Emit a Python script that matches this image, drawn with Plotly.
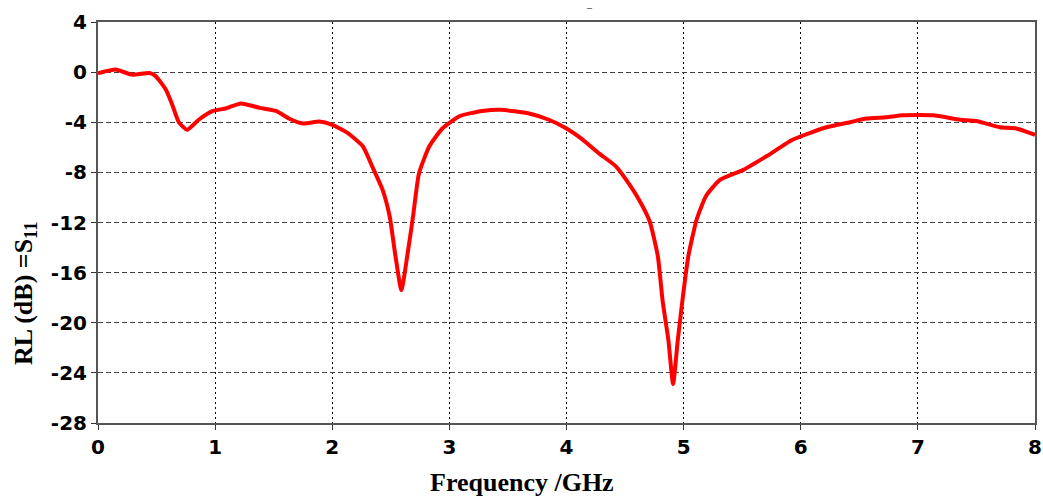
import plotly.graph_objects as go

freq = [0, 0.15, 0.29, 0.44, 0.49, 0.58, 0.63, 0.69, 0.76, 0.86, 0.98, 1.09, 1.22, 1.38,
        1.52, 1.63, 1.75, 1.89, 2.0, 2.13, 2.26, 2.34, 2.43, 2.49, 2.54, 2.59, 2.64, 2.69,
        2.74, 2.83, 2.94, 3.09, 3.28, 3.44, 3.68, 3.85, 4.0, 4.14, 4.28, 4.42, 4.51, 4.62,
        4.71, 4.78, 4.82, 4.87, 4.91, 4.95, 4.99, 5.04, 5.11, 5.19, 5.31, 5.51, 5.71, 5.93,
        6.22, 6.42, 6.56, 6.73, 6.87, 7.13, 7.36, 7.5, 7.7, 7.84, 8.0]
s11 = [-0.1, 0.2, -0.2, -0.07, -0.3, -1.4, -2.5, -4.0, -4.6, -3.8, -3.1, -2.9, -2.5, -2.85,
       -3.1, -3.7, -4.1, -3.95, -4.2, -4.85, -5.9, -7.5, -9.4, -11.5, -14.7, -17.4, -14.7, -11.5,
       -8.1, -5.9, -4.5, -3.5, -3.1, -3.0, -3.3, -3.8, -4.5, -5.4, -6.5, -7.5, -8.6, -10.2,
       -11.9, -14.7, -18.2, -21.4, -24.9, -21.4, -18.2, -14.7, -11.8, -9.9, -8.6, -7.8, -6.7, -5.4,
       -4.4, -4.0, -3.7, -3.6, -3.45, -3.45, -3.8, -3.9, -4.4, -4.5, -5.0]

x_ticks = [0, 1, 2, 3, 4, 5, 6, 7, 8]
y_ticks = [4, 0, -4, -8, -12, -16, -20, -24, -28]

fig = go.Figure()
fig.add_trace(go.Scatter(x=freq, y=s11, mode="lines",
                         line=dict(color="#ff0000", width=4, shape="spline", smoothing=0.5),
                         showlegend=False))

tick_font = dict(family="DejaVu Sans", size=20, color="black", weight="bold")
title_font = dict(family="Liberation Serif", size=26, color="black", weight="bold")

fig.update_layout(
    width=1043, height=497,
    margin=dict(l=98, r=8, t=22, b=74),
    paper_bgcolor="white", plot_bgcolor="white",
    xaxis=dict(range=[0, 8], tickvals=x_ticks, ticktext=[str(v) for v in x_ticks],
               automargin=False,
               showgrid=True, gridcolor="black", gridwidth=1, griddash="2px,3px",
               showline=True, linecolor="#555555", linewidth=2, mirror=True,
               ticks="outside", ticklen=5, tickcolor="#333333",
               tickfont=tick_font, zeroline=False),
    yaxis=dict(range=[-28, 4], tickvals=y_ticks, ticktext=[str(v) for v in y_ticks],
               automargin=False,
               showgrid=True, gridcolor="#444444", gridwidth=1, griddash="5px,3px",
               showline=True, linecolor="#555555", linewidth=2, mirror=True,
               ticks="outside", ticklen=5, tickcolor="#333333",
               tickfont=tick_font, zeroline=False),
    annotations=[
        dict(text="Frequency /GHz", xref="paper", yref="paper", x=0.4525, y=-0.148,
             showarrow=False, xanchor="center", yanchor="middle", font=title_font),
        dict(text="RL (dB) =S<sub>11</sub>", xref="paper", yref="paper", x=-0.078, y=0.324,
             showarrow=False, xanchor="center", yanchor="middle", textangle=-90,
             font=title_font),
        dict(text="–", xref="paper", yref="paper", x=0.525, y=1.037,
             showarrow=False, xanchor="center", yanchor="middle",
             font=dict(family="Liberation Serif", size=10, color="black")),
    ],
)

fig.write_html("out.html")
